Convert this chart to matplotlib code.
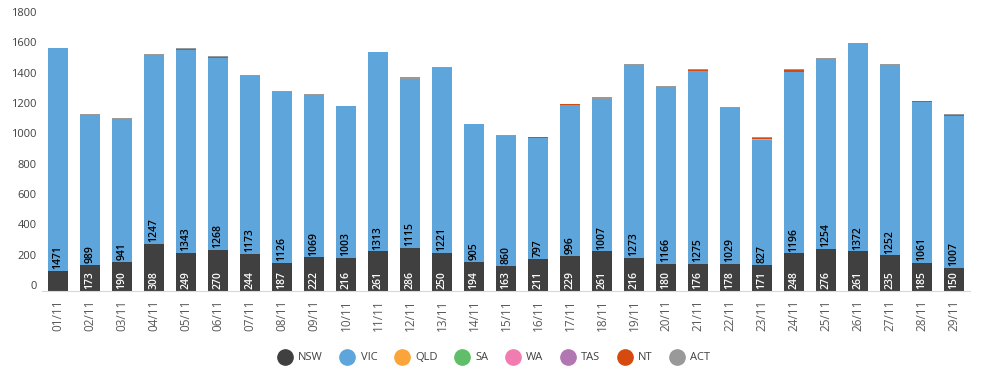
import numpy as np
import matplotlib.pyplot as plt
from matplotlib.lines import Line2D
from matplotlib.transforms import ScaledTranslation

plt.rcParams['font.family'] = ['Open Sans', 'DejaVu Sans']

days = ['01/11', '02/11', '03/11', '04/11', '05/11', '06/11', '07/11', '08/11', '09/11', '10/11',
        '11/11', '12/11', '13/11', '14/11', '15/11', '16/11', '17/11', '18/11', '19/11', '20/11',
        '21/11', '22/11', '23/11', '24/11', '25/11', '26/11', '27/11', '28/11', '29/11']

nsw = [130, 173, 190, 308, 249, 270, 244, 187, 222, 216, 261, 286, 250, 194, 163,
       211, 229, 261, 216, 180, 176, 178, 171, 248, 276, 261, 235, 185, 150]
vic = [1471, 989, 941, 1247, 1343, 1268, 1173, 1126, 1069, 1003, 1313, 1115, 1221, 905, 860,
       797, 996, 1007, 1273, 1166, 1275, 1029, 827, 1196, 1254, 1372, 1252, 1061, 1007]
qld = [0, 0, 0, 0, 0, 0, 0, 0, 0, 0, 0, 0, 0, 0, 0,
       0, 0, 0, 0, 0, 0, 0, 3, 3, 0, 0, 4, 0, 0]
sa = [0] * 29
wa = [0] * 29
tas = [0] * 29
nt = [0, 0, 0, 0, 5, 5, 0, 0, 0, 0, 0, 0, 0, 0, 0,
      5, 5, 0, 0, 0, 4, 0, 5, 10, 0, 0, 0, 5, 5]
act = [0, 3, 12, 8, 3, 8, 8, 6, 10, 4, 3, 10, 6, 5, 5,
       5, 0, 10, 6, 6, 12, 6, 8, 4, 5, 3, 3, 3, 3]

states = ['NSW', 'VIC', 'QLD', 'SA', 'WA', 'TAS', 'NT', 'ACT']
series = [nsw, vic, qld, sa, wa, tas, nt, act]
colors = ['#404040', '#5DA5DA', '#FAA43A', '#60BD68', '#F17CB0', '#B276B2', '#D6490F', '#999999']

# NSW label not shown on the first day in the original
nsw_hidden = [0]

fig = plt.figure(figsize=(9.88, 3.73), dpi=100)
ax = fig.add_axes([42 / 988, 82 / 373, 928 / 988, 273 / 373])

x = np.arange(len(days))
bottom = np.zeros(len(days))
for vals, c in zip(series, colors):
    ax.bar(x, vals, 0.6, bottom=bottom, color=c, linewidth=0)
    bottom += np.array(vals)

# data labels at inside base of NSW and VIC segments
for i in x:
    if i not in nsw_hidden:
        ax.text(i, 12, str(nsw[i]), rotation=90, ha='center', va='bottom',
                fontsize=7.5, fontweight='semibold', color='white')
    ax.text(i, nsw[i] + 12, str(vic[i]), rotation=90, ha='center', va='bottom',
            fontsize=7.5, fontweight='semibold', color='black')

ax.set_xlim(-0.5, len(days) - 0.5)
ax.set_ylim(0, 1800)
ax.set_yticks(range(0, 1801, 200))
ax.set_xticks(x)
ax.set_xticklabels(days, rotation=90)
ax.tick_params(axis='both', length=0, labelsize=8)
ax.tick_params(axis='x', pad=6, labelsize=8.5, labelcolor='#595959')
ax.tick_params(axis='y', pad=4, labelcolor='#404040')
for lab in ax.get_yticklabels():
    lab.set_transform(lab.get_transform() + ScaledTranslation(0, 6 / 100, fig.dpi_scale_trans))

for s in ['top', 'right', 'left']:
    ax.spines[s].set_visible(False)
ax.spines['bottom'].set_color('#d9d9d9')

handles = [Line2D([], [], marker='o', linestyle='', markersize=11, color=c) for c in colors]
fig.legend(handles, states, loc='center', bbox_to_anchor=(492 / 988, 15 / 373), ncol=8,
           frameon=False, fontsize=8, handletextpad=0.2, columnspacing=1.2,
           labelcolor='#404040')

fig.savefig('out.png', dpi=100)
